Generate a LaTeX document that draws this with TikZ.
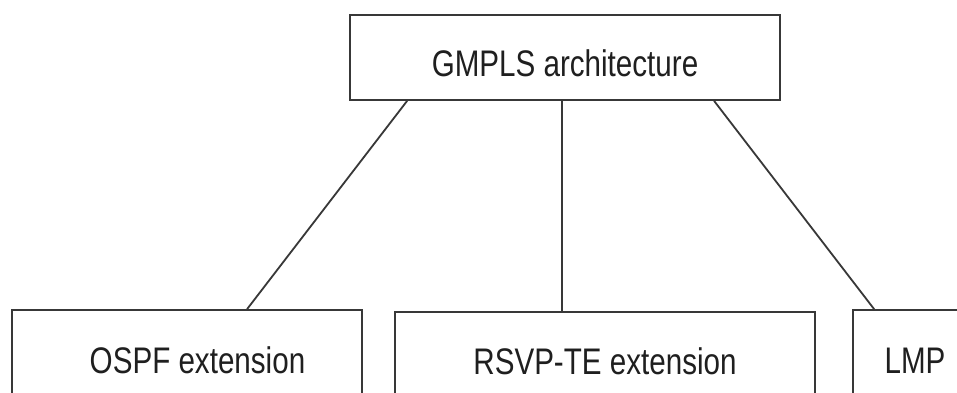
\documentclass[tikz,border=0pt]{standalone}
\usepackage{fontspec}
\setmainfont{Liberation Sans}[FakeStretch=0.8]
\usetikzlibrary{calc}
\tikzset{
  boxnode/.style={draw=black!78, line width=1.8pt, inner sep=0pt, text=black!88,
    font=\fontsize{37}{44}\selectfont, text height=37pt, text depth=0pt},
  link/.style={draw=black!78, line width=1.8pt}
}
\begin{document}
\begin{tikzpicture}[x=1pt,y=-1pt]
\useasboundingbox (0,0) rectangle (957,392);
\clip (0,0) rectangle (957,392);
\fill[white] (0,0) rectangle (957,392);
\node[boxnode, minimum width=430pt, minimum height=85pt] (top) at (565,57.5) {GMPLS architecture};
\node[boxnode, minimum width=350pt, minimum height=89pt] (ospf) at (187,354.5) {\hspace*{21pt}OSPF extension};
\node[boxnode, minimum width=420pt, minimum height=88pt] (rsvp) at (605,356) {RSVP-TE extension};
\node[boxnode, minimum width=124pt, minimum height=89pt] (lmp) at (915,354.5) {LMP};
\coordinate (l1) at ($(top.south west)+(58,0)$);
\coordinate (l2) at ($(ospf.north west)+(236,0)$);
\coordinate (m1) at ($(top.south)+(-3,0)$);
\coordinate (r1) at ($(top.south west)+(365,0)$);
\coordinate (r2) at ($(lmp.north west)+(22,0)$);
\draw[link] (l1) -- (l2);
\draw[link] (m1) -- (m1 |- rsvp.north);
\draw[link] (r1) -- (r2);
\end{tikzpicture}
\end{document}
